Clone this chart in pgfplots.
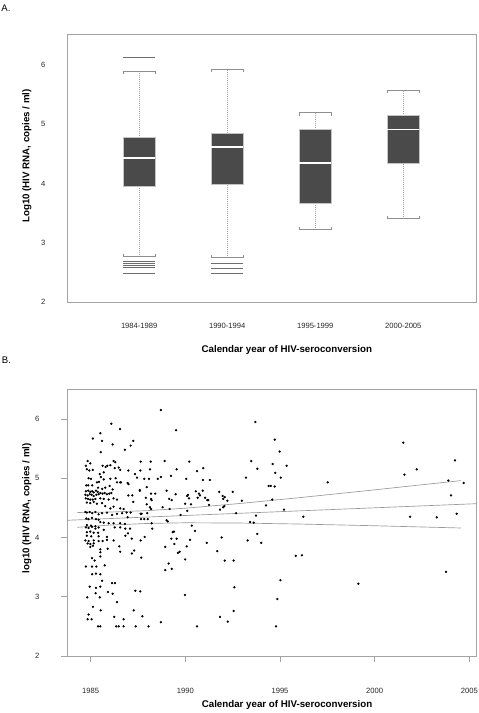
\documentclass[border=0pt]{standalone}
\usepackage{pgfplots}
\pgfplotsset{compat=1.18}
\usepgfplotslibrary{statistics}
\usepackage{fontspec}
\setmainfont{Liberation Sans}
\definecolor{framecol}{HTML}{A3A3A3}
\definecolor{boxfill}{HTML}{4A4A4A}
\definecolor{boxedge}{HTML}{C4C4C4}
\definecolor{capcol}{HTML}{8E8E8E}
\definecolor{outcol}{HTML}{6E6E6E}
\definecolor{fitcol}{HTML}{9A9A9A}

\pgfplotstableread{
year val
2001.51 5.60
2004.24 5.30
2002.22 5.15
2001.57 5.06
1997.52 4.93
2003.89 4.96
2004.70 4.92
2004.03 4.71
1996.23 4.35
2001.87 4.35
2003.28 4.34
2004.33 4.40
1995.83 3.69
1996.16 3.70
2003.77 3.42
1999.14 3.22
1993.70 5.95
1994.72 5.65
1994.98 5.45
1993.48 5.29
1994.61 5.24
1995.35 5.21
1993.80 5.16
1990.95 5.17
1994.75 5.09
1995.04 5.01
1993.20 5.01
1990.93 4.97
1991.29 4.97
1994.40 4.87
1994.51 4.87
1994.72 4.86
1990.92 4.79
1991.79 4.77
1992.50 4.77
1990.77 4.71
1991.97 4.70
1992.08 4.68
1991.04 4.67
1992.00 4.65
1991.16 4.63
1991.21 4.63
1992.22 4.62
1992.98 4.62
1994.59 4.64
1991.25 4.55
1994.26 4.54
1992.06 4.53
1992.00 4.51
1991.83 4.47
1995.21 4.47
1992.68 4.41
1993.73 4.37
1993.42 4.26
1993.61 4.25
1993.80 4.06
1991.92 4.00
1991.13 3.91
1993.29 3.95
1994.01 3.91
1991.69 3.77
1992.08 3.61
1992.55 3.61
1995.02 3.28
1992.59 3.16
1994.86 2.96
1992.55 2.76
1991.83 2.66
1992.24 2.58
1994.79 2.50
1988.71 6.15
1989.51 5.81
1987.25 5.63
1987.11 5.55
1986.81 5.48
1987.64 5.28
1988.17 5.28
1988.91 5.29
1990.21 5.28
1986.99 5.13
1987.62 5.13
1988.13 5.15
1989.54 5.15
1990.62 5.12
1987.34 5.07
1987.45 5.01
1987.83 4.99
1988.08 4.99
1988.54 4.99
1988.71 5.02
1989.24 5.04
1990.05 4.99
1986.95 4.92
1987.00 4.90
1987.96 4.85
1987.59 4.80
1987.60 4.79
1988.41 4.74
1988.19 4.74
1989.01 4.79
1989.49 4.73
1990.14 4.72
1990.55 4.78
1990.72 4.74
1986.99 4.71
1987.20 4.71
1987.91 4.67
1988.19 4.65
1988.22 4.63
1989.15 4.65
1989.28 4.63
1990.10 4.70
1990.19 4.66
1990.65 4.67
1987.25 4.60
1987.96 4.56
1988.13 4.51
1988.19 4.48
1988.80 4.51
1989.17 4.48
1989.99 4.57
1990.30 4.56
1990.10 4.45
1986.90 4.42
1987.11 4.42
1987.64 4.40
1987.69 4.40
1987.99 4.41
1989.01 4.29
1989.07 4.27
1989.75 4.38
1986.95 4.34
1987.66 4.31
1987.83 4.31
1988.01 4.31
1988.22 4.24
1986.81 4.23
1987.08 4.15
1988.25 4.15
1990.34 4.20
1986.97 4.07
1987.17 3.98
1987.64 3.95
1987.85 4.01
1989.33 4.09
1989.40 4.10
1989.26 3.98
1989.54 3.98
1990.51 4.11
1990.25 3.96
1989.42 3.89
1988.94 3.84
1990.07 3.85
1987.30 3.78
1987.18 3.73
1989.61 3.74
1989.70 3.76
1987.67 3.66
1989.99 3.63
1989.12 3.56
1988.94 3.45
1989.28 3.47
1987.36 3.10
1987.62 3.09
1989.98 3.03
1987.27 2.77
1987.73 2.67
1988.71 2.57
1987.38 2.50
1988.06 2.50
1990.62 2.50
1986.09 5.92
1986.55 5.83
1985.51 5.76
1985.12 5.67
1985.60 5.63
1986.16 5.57
1985.53 5.44
1984.84 5.29
1984.98 5.25
1984.75 5.21
1986.21 5.29
1986.30 5.27
1985.63 5.21
1985.79 5.19
1985.88 5.21
1986.04 5.22
1986.27 5.17
1986.48 5.18
1986.56 5.14
1984.80 5.15
1984.93 5.13
1985.11 5.14
1985.48 5.07
1985.54 5.02
1985.69 5.10
1986.04 4.99
1986.32 5.00
1986.60 4.93
1984.89 5.00
1985.02 4.99
1985.33 4.93
1985.44 4.94
1985.69 4.98
1984.77 4.88
1984.87 4.88
1985.08 4.88
1985.39 4.84
1985.61 4.82
1985.77 4.84
1986.00 4.87
1986.16 4.81
1986.39 4.93
1986.56 4.93
1984.75 4.78
1984.87 4.79
1984.98 4.77
1985.08 4.78
1985.16 4.76
1985.28 4.79
1985.37 4.77
1984.72 4.72
1984.84 4.71
1984.95 4.73
1985.05 4.72
1985.16 4.70
1985.30 4.72
1985.42 4.73
1985.51 4.75
1985.63 4.74
1985.74 4.75
1985.86 4.73
1985.98 4.74
1986.09 4.75
1984.74 4.66
1984.86 4.65
1984.98 4.64
1985.11 4.64
1985.25 4.65
1985.51 4.66
1985.69 4.65
1985.95 4.64
1986.21 4.66
1986.39 4.64
1984.80 4.59
1984.98 4.58
1985.16 4.60
1985.33 4.57
1985.60 4.58
1985.77 4.53
1986.04 4.49
1986.21 4.52
1986.56 4.49
1986.74 4.48
1984.72 4.43
1984.80 4.42
1984.95 4.43
1985.08 4.41
1985.25 4.43
1985.42 4.39
1985.60 4.41
1985.86 4.42
1986.13 4.38
1986.39 4.40
1986.66 4.41
1984.77 4.32
1984.89 4.31
1985.07 4.33
1985.28 4.31
1985.42 4.30
1985.51 4.26
1985.69 4.25
1985.95 4.24
1986.21 4.24
1986.56 4.24
1984.80 4.21
1985.02 4.20
1985.25 4.19
1984.75 4.17
1984.89 4.16
1985.07 4.18
1985.25 4.15
1985.42 4.17
1985.69 4.13
1986.27 4.17
1986.56 4.17
1986.83 4.15
1984.80 4.09
1984.98 4.10
1985.16 4.08
1985.39 4.08
1984.80 4.03
1985.03 4.02
1985.42 4.02
1985.86 4.01
1984.72 3.95
1984.89 3.94
1985.16 3.95
1985.42 3.94
1985.63 3.94
1985.86 3.96
1986.21 3.95
1986.83 4.03
1984.84 3.90
1984.98 3.89
1985.16 3.90
1984.98 3.84
1985.12 3.86
1985.51 3.80
1985.90 3.81
1986.51 3.85
1986.56 3.76
1985.51 3.75
1985.07 3.65
1985.21 3.61
1985.51 3.68
1984.75 3.51
1985.07 3.51
1985.30 3.51
1985.74 3.53
1985.08 3.38
1985.28 3.39
1985.51 3.38
1985.60 3.27
1986.13 3.23
1986.28 3.23
1984.95 3.17
1985.28 3.15
1985.51 3.17
1985.91 3.08
1986.16 3.05
1985.26 3.06
1984.82 2.99
1985.48 2.99
1986.39 2.91
1985.12 2.83
1985.53 2.77
1984.89 2.70
1986.25 2.66
1984.84 2.62
1985.05 2.62
1986.74 2.62
1985.39 2.50
1985.51 2.50
1986.35 2.50
1986.48 2.50
1986.74 2.50
}\scatterdata

\pgfplotsset{
  mybox/.style={
    boxplot/draw direction=y,
    boxplot/box extend=0.36,
    boxplot/every box/.style={fill=boxfill, draw=boxedge, line width=0.6pt},
    boxplot/every median/.style={draw=white, line width=1.3pt},
    boxplot/draw/lower whisker/.code={%
      \draw[framecol, densely dotted, line width=0.5pt]
        (boxplot box cs:\pgfplotsboxplotvalue{lower quartile},0.5) --
        (boxplot box cs:\pgfplotsboxplotvalue{lower whisker},0.5);
      \draw[capcol, line width=0.6pt]
        ([yshift=2pt]boxplot box cs:\pgfplotsboxplotvalue{lower whisker},0) --
        (boxplot box cs:\pgfplotsboxplotvalue{lower whisker},0) --
        (boxplot box cs:\pgfplotsboxplotvalue{lower whisker},1) --
        ([yshift=2pt]boxplot box cs:\pgfplotsboxplotvalue{lower whisker},1);
    },
    boxplot/draw/upper whisker/.code={%
      \draw[framecol, densely dotted, line width=0.5pt]
        (boxplot box cs:\pgfplotsboxplotvalue{upper quartile},0.5) --
        (boxplot box cs:\pgfplotsboxplotvalue{upper whisker},0.5);
      \draw[capcol, line width=0.6pt]
        ([yshift=-2pt]boxplot box cs:\pgfplotsboxplotvalue{upper whisker},0) --
        (boxplot box cs:\pgfplotsboxplotvalue{upper whisker},0) --
        (boxplot box cs:\pgfplotsboxplotvalue{upper whisker},1) --
        ([yshift=-2pt]boxplot box cs:\pgfplotsboxplotvalue{upper whisker},1);
    },
  },
}

\begin{document}
\begin{tikzpicture}
\useasboundingbox (0,0) rectangle (358.5pt,534.75pt);
\node[font=\fontsize{7.2}{8}\selectfont, anchor=center] at (4.5pt,528.5pt) {A.};
\node[font=\fontsize{7.2}{8}\selectfont, anchor=center] at (4.8pt,264.75pt) {B.};

% ---------------- Panel A ----------------
\begin{axis}[
  at={(50.25pt,308.25pt)}, anchor=south west,
  scale only axis, width=307pt, height=201pt,
  xmin=0.18, xmax=4.83, ymin=2, ymax=6.52,
  axis line style={framecol, line width=0.6pt},
  xtick={1,2,3,4},
  xticklabels={1984-1989,1990-1994,1995-1999,2000-2005},
  ytick={2,3,4,5,6},
  major tick length=0pt,
  /pgf/number format/assume math mode=true,
  tick label style={font=\fontsize{5.7}{7}\selectfont, text=black!85},
  x tick label style={anchor=center, yshift=-17.6pt},
  y tick label style={anchor=center, xshift=-17.8pt},
  xlabel={Calendar year of HIV-seroconversion},
  ylabel={Log10 (HIV RNA, copies / ml)},
  label style={font=\bfseries\fontsize{7.3}{9}\selectfont},
  xlabel style={at={(axis description cs:0.537,-0.179)}, anchor=center},
  ylabel style={at={(axis description cs:-0.098,0.545)}, anchor=center},
  clip=false,
  mybox,
]
\addplot[boxplot prepared={draw position=1, lower whisker=2.77, lower quartile=3.95, median=4.43, upper quartile=4.77, upper whisker=5.89}] coordinates {};
\addplot[boxplot prepared={draw position=2, lower whisker=2.75, lower quartile=3.98, median=4.61, upper quartile=4.85, upper whisker=5.93}] coordinates {};
\addplot[boxplot prepared={draw position=3, lower whisker=3.22, lower quartile=3.67, median=4.34, upper quartile=4.91, upper whisker=5.19}] coordinates {};
\addplot[boxplot prepared={draw position=4, lower whisker=3.41, lower quartile=4.33, median=4.91, upper quartile=5.14, upper whisker=5.57}] coordinates {};
% outliers drawn as short horizontal lines
\addplot[only marks, mark=-, mark size=11.9pt, mark options={draw=outcol, line width=0.6pt}] coordinates {
  (1,6.13) (1,2.68) (1,2.65) (1,2.61) (1,2.58) (1,2.48)
  (2,2.65) (2,2.57) (2,2.48)
};
\end{axis}

% ---------------- Panel B ----------------
\begin{axis}[
  at={(50.25pt,42.75pt)}, anchor=south west,
  scale only axis, width=306.75pt, height=200pt,
  xmin=1983.75, xmax=2005.35, ymin=2, ymax=6.5,
  axis line style={framecol, line width=0.6pt},
  xtick={1985,1990,1995,2000,2005},
  ytick={2,3,4,5,6},
  xtick pos=bottom, ytick pos=left,
  tick align=outside, major tick length=4.5pt,
  tick style={framecol, line width=0.6pt},
  /pgf/number format/assume math mode=true,
  /pgf/number format/1000 sep={},
  tick label style={font=\fontsize{5.7}{7}\selectfont, text=black!85},
  x tick label style={anchor=center, yshift=-21.75pt},
  y tick label style={anchor=center, xshift=-17.8pt},
  xlabel={Calendar year of HIV-seroconversion},
  ylabel={log10 (HIV RNA, copies / ml)},
  label style={font=\bfseries\fontsize{7.3}{9}\selectfont},
  xlabel style={at={(axis description cs:0.538,-0.184)}, anchor=center},
  ylabel style={at={(axis description cs:-0.098,0.554)}, anchor=center},
]
\addplot[only marks, mark=*, mark size=0.65pt, mark options={fill=black, draw=black}] table[x=year, y=val] {\scatterdata};
\addplot[fitcol, line width=0.5pt] coordinates {(1983.75,4.29) (2005.35,4.57)};
\addplot[fitcol, line width=0.5pt] coordinates {(1984.3,4.422) (1986,4.429) (1988,4.453) (1990,4.494) (1993,4.577) (1996,4.671) (2000,4.804) (2004.56,4.960)};
\addplot[fitcol, line width=0.5pt] coordinates {(1984.3,4.172) (1986,4.209) (1988,4.237) (1990,4.248) (1993,4.243) (1996,4.227) (2000,4.198) (2004.56,4.160)};
\end{axis}
\end{tikzpicture}
\end{document}
